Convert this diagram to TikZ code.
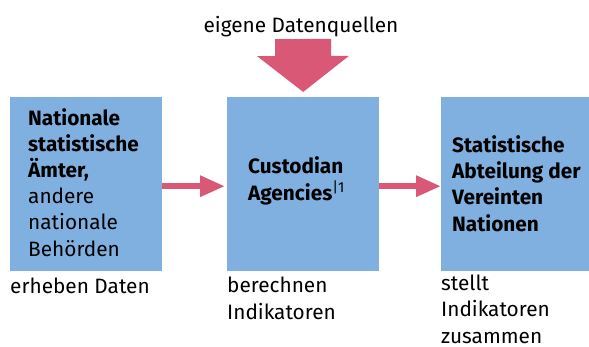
\documentclass[tikz,border=0pt]{standalone}
\usepackage{fontspec}
\setmainfont{Fira Sans}
\usetikzlibrary{arrows.meta}
\definecolor{boxblue}{HTML}{7FB0DF}
\definecolor{arrowpink}{HTML}{D95875}
\begin{document}
\begin{tikzpicture}[x=1pt,y=-1pt,
  box/.style={fill=boxblue,draw=none,inner sep=0pt,minimum width=152pt,minimum height=174pt,anchor=north west},
  txt/.style={anchor=base west,inner sep=0pt,align=left,font=\fontsize{20.8}{26.2}\selectfont},
  harrow/.style={draw=arrowpink,line width=6pt,-{Triangle[length=25pt 0 0,width=20pt 0 0]}},
  varrow/.style={draw=arrowpink,line width=56pt,-{Triangle[length=36pt 0 0,width=90pt 0 0]}}]
\useasboundingbox (0,0) rectangle (589,346);
\node[box] (b1) at (10,97) {};
\node[box] (b2) at (227,97) {};
\node[box] (b3) at (441,97) {};
\node[txt] (t1) at (28,256) {\textbf{Nationale}\\\textbf{statistische}\\\textbf{Ämter,}\\andere\\nationale\\Behörden};
\node[txt] (t2) at (248,200) {\textbf{Custodian}\\\textbf{Agencies}\textsuperscript{|1}};
\node[txt] (t3) at (452,231) {\textbf{Statistische}\\\textbf{Abteilung der}\\\textbf{Vereinten}\\\textbf{Nationen}};
\node[txt] (l1) at (10,293) {erheben Daten};
\node[txt] (l2) at (227,319) {berechnen\\Indikatoren};
\node[txt] (l3) at (441,343) {stellt\\Indikatoren\\zusammen};
\node[txt,anchor=base] (src) at (301,32) {eigene Datenquellen};
\coordinate (vtop) at (303,39);
\draw[varrow] (vtop) -- ([yshift=5pt]b2.north);
\draw[harrow] ([yshift=-2pt]b1.east) -- ([yshift=-2pt,xshift=-2pt]b2.west);
\draw[harrow] ([yshift=-2pt]b2.east) -- ([yshift=-2pt]b3.west);
\end{tikzpicture}
\end{document}
